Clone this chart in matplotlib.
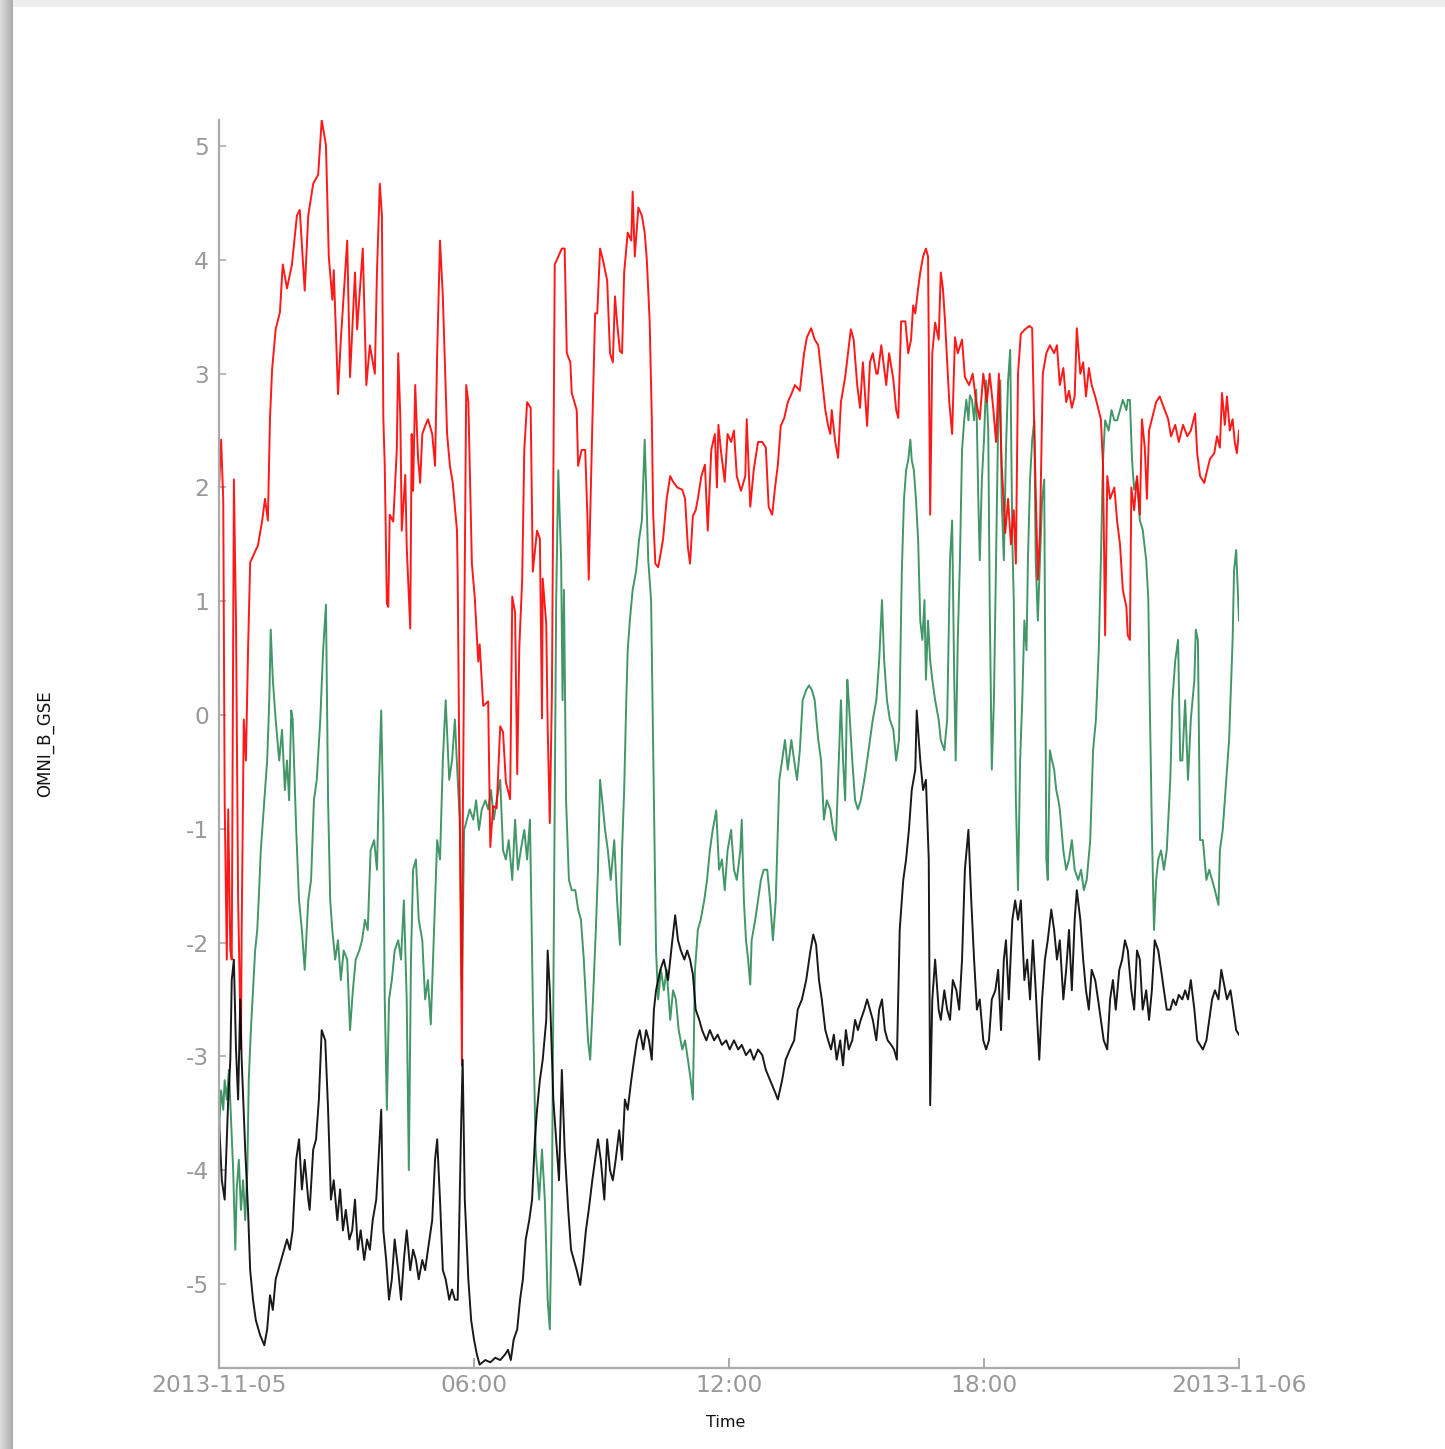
import numpy as np
import pandas as pd
import matplotlib
matplotlib.use("Agg")
import matplotlib.pyplot as plt

plt.rcParams["axes.unicode_minus"] = False

# OMNI B (GSE) components, 2013-11-05, minutes since midnight / nT
bx_min = [0, 4, 8, 13, 16, 18, 21, 24, 27, 30, 32, 37, 41, 44, 48, 52, 58, 64, 68, 72, 76, 80, 86, 92, 96, 100,
          104, 109, 113, 117, 121, 126, 128, 133, 137, 141, 145, 150, 154, 158, 162, 167, 171, 175, 179, 184, 188,
          192, 196, 200, 205, 209, 213, 217, 222, 226, 229, 232, 236, 240, 244, 248, 253, 257, 261, 265, 270, 274,
          278, 282, 287, 291, 295, 301, 305, 308, 312, 316, 320, 325, 329, 333, 337, 342, 344, 347, 352, 356, 360,
          364, 368, 376, 383, 390, 397, 404, 408, 412, 416, 421, 425, 429, 433, 438, 442, 446, 449, 453, 457, 462,
          464, 467, 472, 476, 480, 484, 488, 493, 497, 501, 505, 510, 514, 518, 522, 527, 531, 535, 539, 544, 548,
          552, 556, 560, 565, 569, 573, 577, 582, 586, 590, 594, 599, 603, 607, 611, 614, 617, 623, 628, 634, 640,
          644, 648, 652, 657, 661, 665, 669, 673, 678, 682, 688, 693, 699, 704, 710, 716, 721, 727, 733, 738, 744,
          750, 755, 761, 767, 772, 778, 784, 789, 795, 800, 806, 812, 817, 823, 829, 835, 839, 843, 847, 851, 856,
          860, 864, 868, 872, 877, 881, 885, 889, 894, 898, 902, 906, 911, 915, 919, 923, 928, 932, 936, 940, 944,
          949, 953, 957, 961, 966, 970, 974, 978, 983, 985, 990, 994, 998, 1002, 1004, 1007, 1011, 1016, 1019, 1024,
          1028, 1032, 1036, 1041, 1045, 1049, 1053, 1058, 1062, 1066, 1070, 1074, 1079, 1083, 1087, 1091, 1096,
          1100, 1104, 1108, 1111, 1115, 1120, 1124, 1128, 1132, 1137, 1141, 1145, 1149, 1153, 1158, 1162, 1166,
          1170, 1175, 1179, 1183, 1187, 1192, 1196, 1200, 1204, 1208, 1211, 1216, 1220, 1224, 1228, 1232, 1237,
          1241, 1245, 1249, 1254, 1258, 1262, 1266, 1271, 1275, 1279, 1283, 1288, 1292, 1296, 1300, 1304, 1309,
          1313, 1317, 1321, 1326, 1330, 1334, 1338, 1343, 1347, 1351, 1355, 1360, 1364, 1368, 1372, 1377, 1381,
          1385, 1389, 1394, 1398, 1402, 1406, 1411, 1415, 1419, 1423, 1428, 1432, 1436, 1440]
bx_val = [-3.56, -4.09, -4.26, -3.38, -3.03, -2.33, -2.15, -2.94, -3.38, -2.50, -3.03, -3.82, -4.35, -4.88, -5.14,
          -5.32, -5.45, -5.54, -5.40, -5.10, -5.23, -4.96, -4.83, -4.70, -4.61, -4.70, -4.53, -3.91, -3.73, -4.17,
          -3.91, -4.26, -4.35, -3.82, -3.73, -3.38, -2.77, -2.86, -3.47, -4.26, -4.09, -4.44, -4.17, -4.53, -4.35,
          -4.61, -4.53, -4.26, -4.70, -4.53, -4.79, -4.61, -4.70, -4.44, -4.26, -3.82, -3.47, -4.53, -4.79, -5.14,
          -4.96, -4.61, -4.88, -5.14, -4.79, -4.53, -4.88, -4.70, -4.79, -4.96, -4.79, -4.88, -4.70, -4.44, -3.91,
          -3.73, -4.26, -4.88, -4.96, -5.14, -5.05, -5.14, -5.14, -3.56, -3.03, -4.26, -4.96, -5.32, -5.49, -5.62,
          -5.71, -5.67, -5.69, -5.65, -5.67, -5.62, -5.58, -5.67, -5.49, -5.40, -5.14, -4.96, -4.61, -4.44, -4.26,
          -3.73, -3.47, -3.21, -3.03, -2.68, -2.07, -2.42, -3.38, -3.73, -4.09, -3.12, -3.82, -4.35, -4.70, -4.79,
          -4.88, -5.01, -4.79, -4.53, -4.35, -4.09, -3.91, -3.73, -3.91, -4.26, -3.73, -4.00, -4.09, -3.91, -3.65,
          -3.91, -3.38, -3.47, -3.21, -3.03, -2.86, -2.77, -2.94, -2.77, -2.86, -3.03, -2.59, -2.42, -2.24, -2.15,
          -2.33, -1.98, -1.76, -1.98, -2.07, -2.15, -2.07, -2.15, -2.28, -2.59, -2.68, -2.77, -2.86, -2.77, -2.86,
          -2.81, -2.90, -2.86, -2.94, -2.86, -2.94, -2.90, -2.99, -2.94, -3.03, -2.94, -2.99, -3.12, -3.21, -3.30,
          -3.38, -3.21, -3.03, -2.94, -2.86, -2.59, -2.50, -2.33, -2.07, -1.93, -2.02, -2.33, -2.50, -2.77, -2.86,
          -2.94, -2.81, -3.03, -2.86, -3.08, -2.77, -2.94, -2.86, -2.68, -2.77, -2.68, -2.59, -2.50, -2.59, -2.68,
          -2.86, -2.59, -2.50, -2.77, -2.86, -2.90, -2.94, -3.03, -1.89, -1.45, -1.27, -1.01, -0.66, -0.48, 0.04,
          -0.40, -0.66, -0.57, -1.27, -3.43, -2.50, -2.15, -2.59, -2.68, -2.42, -2.59, -2.68, -2.33, -2.42, -2.59,
          -2.15, -1.36, -1.01, -1.63, -2.15, -2.59, -2.50, -2.86, -2.94, -2.86, -2.50, -2.42, -2.24, -2.77, -2.15,
          -1.98, -2.50, -1.80, -1.63, -1.80, -1.63, -2.33, -2.15, -2.50, -1.98, -2.42, -3.03, -2.50, -2.15, -1.98,
          -1.71, -1.89, -2.15, -1.98, -2.50, -2.24, -1.89, -2.42, -1.80, -1.54, -1.80, -2.15, -2.42, -2.59, -2.24,
          -2.33, -2.50, -2.68, -2.86, -2.94, -2.50, -2.33, -2.59, -2.24, -2.15, -1.98, -2.07, -2.42, -2.59, -2.07,
          -2.15, -2.59, -2.42, -2.68, -2.42, -1.98, -2.07, -2.24, -2.42, -2.59, -2.59, -2.50, -2.55, -2.46, -2.50,
          -2.42, -2.50, -2.33, -2.59, -2.86, -2.90, -2.94, -2.86, -2.68, -2.50, -2.42, -2.50, -2.24, -2.37, -2.50,
          -2.42, -2.59, -2.77, -2.81]

by_min = [0, 3, 6, 8, 11, 13, 16, 18, 21, 24, 27, 31, 32, 35, 38, 41, 44, 49, 55, 61, 65, 69, 72, 75, 80, 86, 90,
          96, 103, 110, 114, 121, 126, 133, 140, 145, 151, 155, 160, 162, 165, 168, 172, 181, 185, 192, 195, 203,
          208, 213, 220, 223, 227, 230, 232, 234, 237, 239, 241, 246, 251, 253, 256, 258, 263, 265, 270, 272, 274,
          277, 281, 284, 287, 291, 295, 301, 305, 308, 312, 316, 322, 326, 330, 336, 337, 343, 344, 349, 352, 357,
          361, 366, 368, 373, 380, 383, 387, 392, 397, 401, 405, 411, 414, 418, 421, 424, 428, 431, 435, 440, 443,
          449, 453, 456, 457, 462, 464, 467, 470, 474, 479, 484, 488, 491, 496, 498, 505, 507, 512, 517, 520, 522,
          527, 531, 534, 538, 542, 548, 552, 556, 559, 562, 566, 569, 572, 577, 582, 584, 587, 592, 597, 601, 604,
          608, 611, 613, 616, 620, 623, 627, 632, 637, 641, 647, 654, 658, 662, 665, 669, 673, 676, 681, 686, 690,
          695, 700, 703, 705, 709, 714, 718, 723, 727, 731, 737, 743, 745, 750, 755, 761, 767, 772, 776, 781, 785,
          789, 793, 798, 803, 808, 813, 820, 826, 830, 836, 841, 846, 851, 856, 860, 863, 865, 870, 874, 878, 884,
          888, 892, 896, 901, 905, 909, 915, 919, 923, 928, 930, 935, 942, 946, 952, 956, 959, 963, 969, 973, 977,
          980, 983, 987, 990, 994, 998, 1001, 1004, 1007, 1011, 1016, 1019, 1022, 1025, 1031, 1035, 1039, 1043,
          1049, 1053, 1059, 1064, 1069, 1074, 1079, 1084, 1088, 1093, 1097, 1101, 1105, 1110, 1114, 1118, 1122,
          1125, 1128, 1132, 1138, 1144, 1148, 1151, 1154, 1156, 1159, 1163, 1168, 1173, 1179, 1183, 1187, 1192,
          1196, 1200, 1204, 1208, 1211, 1216, 1220, 1224, 1228, 1232, 1237, 1241, 1245, 1248, 1251, 1254, 1258,
          1264, 1268, 1272, 1276, 1281, 1283, 1286, 1288, 1292, 1296, 1300, 1303, 1307, 1310, 1313, 1317, 1323,
          1328, 1334, 1340, 1344, 1350, 1355, 1361, 1367, 1372, 1378, 1381, 1385, 1391, 1395, 1399, 1405, 1409,
          1413, 1416, 1420, 1423, 1427, 1431, 1434, 1437, 1440]
by_val = [1.98, 2.42, 1.89, -0.75, -2.15, -0.83, -2.07, -2.15, 2.07, 0.83, -1.63, -2.94, -1.89, -0.04, -0.40, 0.57,
          1.34, 1.41, 1.49, 1.71, 1.90, 1.71, 2.61, 3.04, 3.39, 3.54, 3.96, 3.75, 3.96, 4.39, 4.44, 3.73, 4.39, 4.67,
          4.75, 5.23, 5.01, 4.03, 3.65, 3.91, 3.38, 2.82, 3.30, 4.17, 2.97, 3.89, 3.39, 4.10, 2.90, 3.25, 3.00, 3.89,
          4.67, 4.39, 2.61, 2.19, 0.98, 0.95, 1.76, 1.70, 2.33, 3.18, 2.61, 1.62, 2.11, 1.48, 0.76, 2.47, 1.97, 2.90,
          2.26, 2.04, 2.47, 2.54, 2.60, 2.47, 2.19, 3.18, 4.17, 3.68, 2.47, 2.19, 2.04, 1.62, 1.19, -3.08, -1.09,
          2.90, 2.75, 1.33, 1.04, 0.47, 0.62, 0.08, 0.12, -1.16, -0.80, -0.82, -0.10, -0.15, -0.59, -0.74, 1.04,
          0.90, -0.52, 0.60, 1.19, 2.33, 2.75, 2.70, 1.26, 1.62, 1.55, -0.03, 1.20, 0.80, -0.10, -0.95, 0.19, 3.96,
          4.03, 4.10, 4.10, 3.18, 3.10, 2.83, 2.68, 2.19, 2.33, 2.33, 1.76, 1.19, 2.54, 3.53, 3.53, 4.10, 4.00, 3.82,
          3.18, 3.10, 3.68, 3.45, 3.20, 3.18, 3.89, 4.24, 4.17, 4.60, 4.03, 4.46, 4.39, 4.24, 4.00, 3.46, 2.61, 1.76,
          1.33, 1.30, 1.40, 1.55, 1.90, 2.10, 2.05, 2.00, 1.98, 1.90, 1.47, 1.33, 1.75, 1.80, 1.90, 2.10, 2.20, 1.62,
          2.33, 2.47, 2.00, 2.55, 2.30, 2.05, 2.47, 2.40, 2.50, 2.10, 1.97, 2.10, 2.60, 1.83, 2.16, 2.40, 2.40, 2.35,
          1.83, 1.76, 2.00, 2.20, 2.54, 2.61, 2.75, 2.82, 2.90, 2.85, 3.18, 3.32, 3.40, 3.30, 3.25, 2.97, 2.68, 2.54,
          2.47, 2.68, 2.40, 2.26, 2.75, 2.97, 3.18, 3.39, 3.30, 2.90, 2.70, 3.10, 2.54, 3.10, 3.18, 3.00, 3.00, 3.25,
          2.90, 3.18, 2.95, 2.68, 2.61, 3.46, 3.46, 3.18, 3.30, 3.60, 3.53, 3.75, 3.89, 4.03, 4.10, 4.03, 1.76, 3.18,
          3.45, 3.30, 3.89, 3.75, 3.46, 2.75, 2.47, 3.32, 3.18, 3.30, 2.97, 2.90, 3.00, 2.75, 2.60, 3.00, 2.75, 3.00,
          2.70, 2.40, 3.00, 2.20, 1.60, 1.90, 1.50, 1.80, 1.33, 3.00, 3.35, 3.39, 3.42, 3.40, 2.50, 1.70, 1.19, 1.60,
          3.00, 3.18, 3.25, 3.18, 3.25, 2.90, 3.05, 2.75, 2.85, 2.70, 2.80, 3.40, 3.00, 3.10, 2.80, 3.05, 2.90, 2.80,
          2.70, 2.60, 2.20, 0.70, 2.10, 1.90, 2.00, 1.70, 1.50, 1.10, 0.95, 0.70, 0.66, 2.00, 1.80, 2.10, 1.76, 2.60,
          2.35, 1.90, 2.50, 2.60, 2.75, 2.80, 2.70, 2.60, 2.45, 2.55, 2.40, 2.55, 2.45, 2.50, 2.65, 2.30, 2.10, 2.04,
          2.15, 2.25, 2.30, 2.45, 2.35, 2.83, 2.55, 2.80, 2.50, 2.60, 2.40, 2.30, 2.50]

bz_min = [0, 3, 6, 8, 11, 14, 17, 20, 23, 25, 28, 31, 34, 37, 40, 42, 45, 48, 51, 54, 56, 59, 62, 65, 68, 71, 73, 76,
          80, 85, 89, 93, 96, 99, 102, 104, 109, 113, 117, 121, 126, 130, 134, 138, 143, 147, 151, 154, 157, 160,
          164, 168, 172, 176, 181, 185, 189, 193, 198, 202, 206, 210, 214, 219, 223, 226, 229, 232, 234, 237, 240,
          244, 248, 253, 257, 261, 265, 268, 271, 274, 278, 282, 287, 291, 295, 299, 305, 308, 312, 316, 320, 325,
          329, 333, 337, 340, 343, 346, 350, 354, 359, 363, 367, 371, 376, 380, 384, 388, 392, 397, 401, 405, 409,
          414, 418, 422, 426, 431, 435, 439, 443, 447, 452, 456, 460, 464, 467, 470, 473, 476, 479, 483, 485, 487,
          490, 494, 498, 503, 507, 511, 515, 518, 521, 524, 528, 532, 535, 538, 541, 545, 549, 553, 558, 562, 566,
          569, 572, 575, 577, 580, 584, 589, 593, 597, 601, 606, 610, 614, 617, 620, 624, 628, 632, 637, 641, 645,
          649, 654, 658, 662, 666, 669, 672, 676, 680, 685, 689, 693, 697, 702, 706, 710, 714, 718, 723, 727, 731,
          736, 738, 741, 744, 747, 750, 752, 757, 761, 765, 769, 774, 778, 782, 786, 791, 795, 799, 803, 808, 812,
          816, 820, 824, 829, 833, 837, 841, 846, 850, 854, 858, 863, 867, 871, 875, 878, 881, 884, 887, 889, 894,
          898, 902, 906, 911, 915, 919, 923, 928, 932, 936, 939, 943, 947, 952, 956, 960, 964, 967, 970, 973, 976,
          978, 981, 984, 987, 990, 993, 996, 998, 1001, 1004, 1007, 1011, 1016, 1019, 1024, 1028, 1032, 1035,
          1038, 1040, 1043, 1046, 1049, 1052, 1055, 1058, 1060, 1063, 1066, 1069, 1072, 1074, 1077, 1080, 1083,
          1086, 1088, 1091, 1094, 1097, 1100, 1103, 1105, 1108, 1111, 1114, 1117, 1120, 1122, 1125, 1128, 1131,
          1134, 1137, 1140, 1142, 1145, 1148, 1151, 1153, 1156, 1159, 1162, 1165, 1168, 1170, 1173, 1176, 1179,
          1182, 1185, 1187, 1192, 1196, 1200, 1204, 1208, 1213, 1217, 1221, 1225, 1230, 1234, 1238, 1242, 1245,
          1248, 1251, 1256, 1260, 1264, 1268, 1272, 1276, 1281, 1283, 1286, 1289, 1292, 1296, 1300, 1304, 1309,
          1312, 1314, 1317, 1320, 1323, 1326, 1330, 1334, 1338, 1343, 1346, 1350, 1354, 1357, 1360, 1364, 1368,
          1372, 1377, 1379, 1382, 1385, 1389, 1394, 1398, 1402, 1406, 1411, 1413, 1417, 1422, 1426, 1431, 1433,
          1436, 1440]
bz_val = [-3.65, -3.30, -3.47, -3.21, -3.38, -3.12, -3.56, -4.00, -4.70, -4.17, -3.91, -4.35, -4.09, -4.44, -4.00,
          -3.21, -2.77, -2.42, -2.07, -1.89, -1.63, -1.19, -0.92, -0.66, -0.40, 0.13, 0.75, 0.31, -0.04, -0.40,
          -0.13, -0.66, -0.40, -0.75, 0.04, -0.04, -1.01, -1.63, -1.89, -2.24, -1.63, -1.45, -0.75, -0.57, -0.04,
          0.57, 0.97, -0.75, -1.63, -1.89, -2.15, -1.98, -2.33, -2.07, -2.15, -2.77, -2.42, -2.15, -2.07, -1.98,
          -1.80, -1.89, -1.19, -1.10, -1.36, -0.57, 0.04, -0.92, -2.50, -3.47, -2.50, -2.33, -2.07, -1.98, -2.15,
          -1.63, -2.50, -4.00, -2.15, -1.36, -1.27, -1.80, -1.98, -2.50, -2.33, -2.72, -1.63, -1.10, -1.27, -0.40,
          0.13, -0.57, -0.40, -0.04, -0.57, -0.92, -2.42, -1.01, -0.92, -0.83, -0.92, -0.75, -1.01, -0.83, -0.75,
          -0.83, -0.66, -0.92, -0.75, -0.57, -1.19, -1.27, -1.10, -1.45, -0.92, -1.36, -1.19, -1.01, -1.27, -0.92,
          -2.50, -3.82, -4.26, -3.82, -4.26, -5.14, -5.40, -4.26, -1.63, 1.01, 2.15, 1.36, 0.13, 1.10, -0.75, -1.45,
          -1.54, -1.54, -1.71, -1.80, -2.15, -2.50, -2.86, -3.03, -2.50, -1.89, -1.36, -0.57, -0.75, -1.01, -1.19,
          -1.45, -1.10, -1.63, -2.02, -1.19, -0.66, 0.13, 0.57, 0.83, 1.10, 1.27, 1.54, 1.71, 2.42, 1.36, 1.01,
          -0.75, -2.07, -2.50, -2.24, -2.42, -2.24, -2.68, -2.42, -2.50, -2.77, -2.94, -2.86, -3.03, -3.21, -3.38,
          -2.24, -1.89, -1.80, -1.63, -1.45, -1.19, -1.01, -0.84, -1.36, -1.27, -1.54, -1.19, -1.01, -1.36, -1.45,
          -1.19, -0.92, -1.63, -1.98, -2.15, -2.37, -1.98, -1.80, -1.63, -1.45, -1.36, -1.36, -1.63, -1.98, -1.63,
          -0.57, -0.40, -0.22, -0.48, -0.22, -0.40, -0.57, -0.31, 0.13, 0.22, 0.26, 0.22, 0.13, -0.22, -0.40, -0.92,
          -0.75, -0.83, -1.01, -1.10, -0.40, 0.13, -0.40, -0.75, 0.31, 0.13, -0.40, -0.75, -0.83, -0.75, -0.57,
          -0.40, -0.22, -0.04, 0.13, 0.48, 1.01, 0.48, 0.13, -0.04, -0.13, -0.40, -0.22, 1.27, 1.89, 2.15, 2.24,
          2.42, 2.24, 2.15, 1.89, 1.54, 0.83, 0.66, 1.01, 0.31, 0.83, 0.48, 0.31, 0.13, -0.04, -0.22, -0.31, -0.04,
          1.36, 1.71, 0.31, -0.40, 0.66, 1.36, 2.33, 2.59, 2.77, 2.59, 2.81, 2.77, 2.59, 2.86, 1.89, 1.36, 2.07,
          2.42, 2.94, 2.50, 1.01, -0.48, 0.13, 1.36, 2.59, 2.94, 1.89, 1.36, 2.33, 2.94, 3.21, 1.54, 1.01, -0.75,
          -1.54, -0.40, 0.13, 0.83, 0.57, 1.36, 2.07, 2.42, 2.59, 1.36, 0.83, 1.36, 1.89, 2.07, -1.27, -1.45,
          -0.31, -0.40, -0.48, -0.66, -0.75, -0.83, -1.19, -1.36, -1.27, -1.10, -1.36, -1.45, -1.36, -1.54, -1.45,
          -1.10, -0.31, -0.04, 0.57, 1.36, 2.24, 2.59, 2.50, 2.68, 2.59, 2.59, 2.68, 2.77, 2.68, 2.77, 2.77, 2.24,
          1.98, 2.07, 1.71, 1.63, 1.36, 1.01, 0.13, -1.01, -1.89, -1.45, -1.27, -1.19, -1.36, -1.19, -0.57, 0.13,
          0.48, 0.66, -0.40, -0.40, 0.13, -0.57, -0.04, 0.31, 0.75, 0.66, -1.10, -1.10, -1.45, -1.36, -1.45, -1.54,
          -1.67, -1.19, -1.01, -0.57, -0.22, 0.66, 1.27, 1.45, 0.83]

start = pd.Timestamp("2013-11-05")
tick_times = pd.to_datetime(["2013-11-05 00:00", "2013-11-05 06:00", "2013-11-05 12:00",
                             "2013-11-05 18:00", "2013-11-06 00:00"])
tick_labels = ["2013-11-05", "06:00", "12:00", "18:00", "2013-11-06"]


def to_time(minutes):
    return start + pd.to_timedelta(np.asarray(minutes), unit="min")


W, H = 1445, 1449
fig = plt.figure(figsize=(W / 100, H / 100), dpi=100)

# window frame: light strip on top, soft shadow on the left
bg = np.ones((H, W, 3))
bg[:7, :, :] = 0.93
shade = np.linspace(0.86, 0.68, 13)
bg[:, :13, :] = shade[None, :, None]
bg_ax = fig.add_axes([0, 0, 1, 1], zorder=-10)
bg_ax.imshow(bg, aspect="auto", interpolation="nearest")
bg_ax.axis("off")

ax = fig.add_axes([219 / W, 81 / H, 1020 / W, 1248 / H])
ax.patch.set_alpha(0)

ax.plot(to_time(bz_min), bz_val, color="#2e8b57", lw=1.4, alpha=0.9)
ax.plot(to_time(by_min), by_val, color="#ff0000", lw=1.4, alpha=0.9)
ax.plot(to_time(bx_min), bx_val, color="#000000", lw=1.4, alpha=0.9)

ax.set_xlim(tick_times[0], tick_times[-1])
ax.set_ylim(-5.74, 5.23)

ax.set_xticks(tick_times)
ax.set_xticklabels(tick_labels)
ax.set_yticks(np.arange(-5, 6, 1))

for side in ("top", "right"):
    ax.spines[side].set_visible(False)
for side in ("left", "bottom"):
    ax.spines[side].set_color("#aaaaaa")
    ax.spines[side].set_linewidth(1.6)

ax.tick_params(axis="x", direction="in", length=7, width=1.4, color="#aaaaaa",
               labelcolor="#999999", labelsize=16.8, pad=4)
ax.tick_params(axis="y", direction="in", length=5, width=1.2, color="#aaaaaa",
               labelcolor="#999999", labelsize=16.8, pad=7)

ax.set_xlabel("Time", fontsize=11.5, color="#111111")
ax.set_ylabel("OMNI_B_GSE", fontsize=12, color="#111111")
ax.xaxis.set_label_coords(0.497, -0.0375)
ax.yaxis.set_label_coords(-0.1618, 0.5)

fig.savefig("out.png", dpi=100)
